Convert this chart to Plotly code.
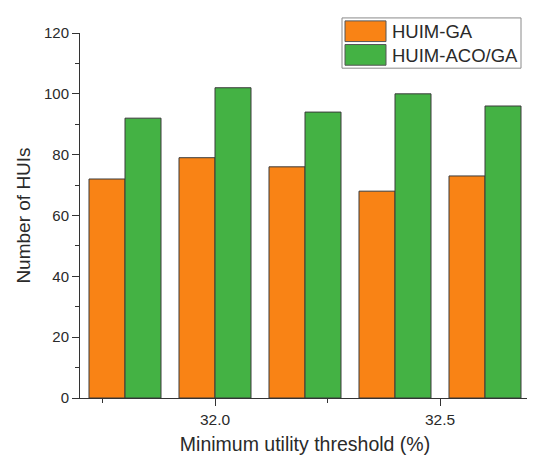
import plotly.graph_objects as go

thresholds = [31.8, 32.0, 32.2, 32.4, 32.6]
series_names = ["HUIM-GA", "HUIM-ACO/GA"]
huim_ga = [72, 79, 76, 68, 73]
huim_aco_ga = [92, 102, 94, 100, 96]
x_tickvals = [32.0, 32.5]
x_ticklabels = ["32.0", "32.5"]
y_tickvals = [0, 20, 40, 60, 80, 100, 120]

colors = ["#F98315", "#44B244"]
font_family = "Liberation Sans, Arial, sans-serif"
text_color = "#2a2a2a"

fig = go.Figure()
for name, vals, col in zip(series_names, [huim_ga, huim_aco_ga], colors):
    fig.add_trace(go.Bar(
        x=thresholds, y=vals, name=name,
        marker=dict(color=col, line=dict(color="#3a3a3a", width=1)),
        showlegend=False,
    ))

# custom legend (styling only)
shapes = [dict(type="rect", xref="paper", yref="paper",
               x0=(334 - 72) / 450, x1=(513 - 72) / 450,
               y0=(395.7 - 61) / 370.4, y1=(395.7 - 10) / 370.4,
               line=dict(color="#8a8a8a", width=1), fillcolor="white", layer="above")]
annotations = []
for i, (name, col) in enumerate(zip(series_names, colors)):
    top = 13 + i * 24
    shapes.append(dict(type="rect", xref="paper", yref="paper",
                       x0=(337 - 72) / 450, x1=(378 - 72) / 450,
                       y0=(395.7 - (top + 21)) / 370.4, y1=(395.7 - top) / 370.4,
                       line=dict(color="#555555", width=1), fillcolor=col, layer="above"))
    annotations.append(dict(xref="paper", yref="paper",
                            x=(382 - 72) / 450, y=(395.7 - (top + 11)) / 370.4,
                            text=name, showarrow=False, xanchor="left", yanchor="middle",
                            font=dict(size=18.5, color=text_color, family=font_family)))

fig.update_layout(
    width=535, height=455,
    margin=dict(l=72, r=13, t=25, b=59),
    paper_bgcolor="white", plot_bgcolor="white",
    barmode="group", bargap=0.2, bargroupgap=0,
    font=dict(family=font_family, color=text_color),
    shapes=shapes, annotations=annotations,
)
fig.update_xaxes(
    range=[31.7, 32.7], tickvals=x_tickvals, ticktext=x_ticklabels,
    ticks="outside", ticklen=7, tickwidth=1, tickcolor="#333",
    minor=dict(dtick=0.25, tick0=31.75, ticks="outside", ticklen=4, tickcolor="#333", showgrid=False),
    showline=True, linecolor="#333", linewidth=1, showgrid=False, zeroline=False,
    tickfont=dict(size=15.5, color=text_color),
    title=dict(text="Minimum utility threshold (%)", font=dict(size=19.5, color=text_color), standoff=10),
)
fig.update_yaxes(
    range=[0, 120], tickvals=y_tickvals,
    ticks="outside", ticklen=7, tickwidth=1, tickcolor="#333",
    minor=dict(dtick=10, ticks="outside", ticklen=4, tickcolor="#333", showgrid=False),
    showline=True, linecolor="#333", linewidth=1, showgrid=False, zeroline=False,
    tickfont=dict(size=15, color=text_color),
    title=dict(text="Number of HUIs", font=dict(size=19, color=text_color), standoff=8),
)
fig.write_html("out.html")
